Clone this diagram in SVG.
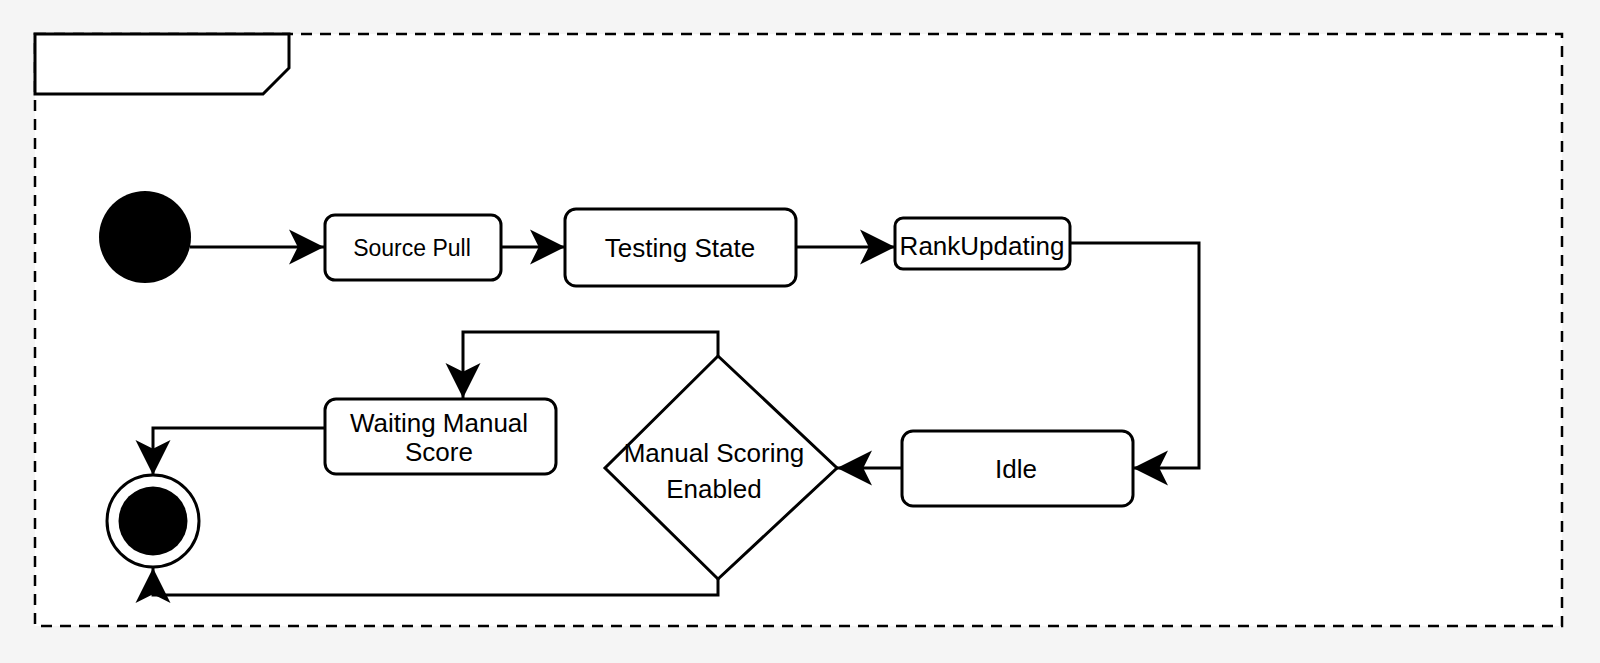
<svg xmlns="http://www.w3.org/2000/svg" width="1600" height="663" viewBox="0 0 1600 663">
<style>
.node{fill:#fff;stroke:#000;stroke-width:3}
.lbl{font-family:"Liberation Sans",Arial,sans-serif;font-size:26px;fill:#000;text-anchor:middle}
.small{font-size:23px}
.edge{fill:none;stroke:#000;stroke-width:3}
</style>
<defs>
<marker id="arr" markerUnits="userSpaceOnUse" markerWidth="40" markerHeight="40" viewBox="-30 -16 32 32" refX="0" refY="0" orient="auto">
<path d="M0,0 L-28,-14 L-21,0 L-28,14 Z" fill="#000"/>
</marker>
</defs>
<rect x="0" y="0" width="1600" height="663" fill="#f5f5f5"/>
<g id="frame">
<rect x="35" y="34" width="1527" height="592" fill="#fff" stroke="#000" stroke-width="2.5" stroke-dasharray="11 8"/>
<path d="M35,34 L289,34 L289,68 L263,94 L35,94 Z" fill="#fff" stroke="#000" stroke-width="3"/>
</g>
<g id="connectors">
<path class="edge" d="M190,247 L324,247" marker-end="url(#arr)"/>
<path class="edge" d="M501,247 L565,247" marker-end="url(#arr)"/>
<path class="edge" d="M796,247 L895,247" marker-end="url(#arr)"/>
<path class="edge" d="M1070,243 L1199,243 L1199,468 L1133,468" marker-end="url(#arr)"/>
<path class="edge" d="M902,468 L837,468" marker-end="url(#arr)"/>
<path class="edge" d="M718,356 L718,332 L463,332 L463,398" marker-end="url(#arr)"/>
<path class="edge" d="M325,428 L153,428 L153,475" marker-end="url(#arr)"/>
<path class="edge" d="M718,579 L718,595 L153,595 L153,568" marker-end="url(#arr)"/>
</g>
<g id="initial">
<circle cx="145" cy="237" r="46" fill="#000"/>
</g>
<g id="source-pull">
<rect class="node" x="325" y="215" width="176" height="65" rx="10"/>
<text class="lbl small" x="412" y="256">Source Pull</text>
</g>
<g id="testing-state">
<rect class="node" x="565" y="209" width="231" height="77" rx="11"/>
<text class="lbl" x="680" y="257">Testing State</text>
</g>
<g id="rank-updating">
<rect class="node" x="895" y="218" width="175" height="51" rx="8"/>
<text class="lbl" x="982" y="255">RankUpdating</text>
</g>
<g id="idle">
<rect class="node" x="902" y="431" width="231" height="75" rx="11"/>
<text class="lbl" x="1016" y="478">Idle</text>
</g>
<g id="decision">
<polygon class="node" points="718,356 837,468 718,579 605,468"/>
<text class="lbl" x="714" y="462">Manual Scoring</text>
<text class="lbl" x="714" y="498">Enabled</text>
</g>
<g id="waiting-manual-score">
<rect class="node" x="325" y="399" width="231" height="75" rx="11"/>
<text class="lbl" x="439" y="432">Waiting Manual</text>
<text class="lbl" x="439" y="461">Score</text>
</g>
<g id="final">
<circle cx="153" cy="521" r="46" fill="#fff" stroke="#000" stroke-width="3"/>
<circle cx="153" cy="521" r="34.5" fill="#000"/>
</g>
</svg>
